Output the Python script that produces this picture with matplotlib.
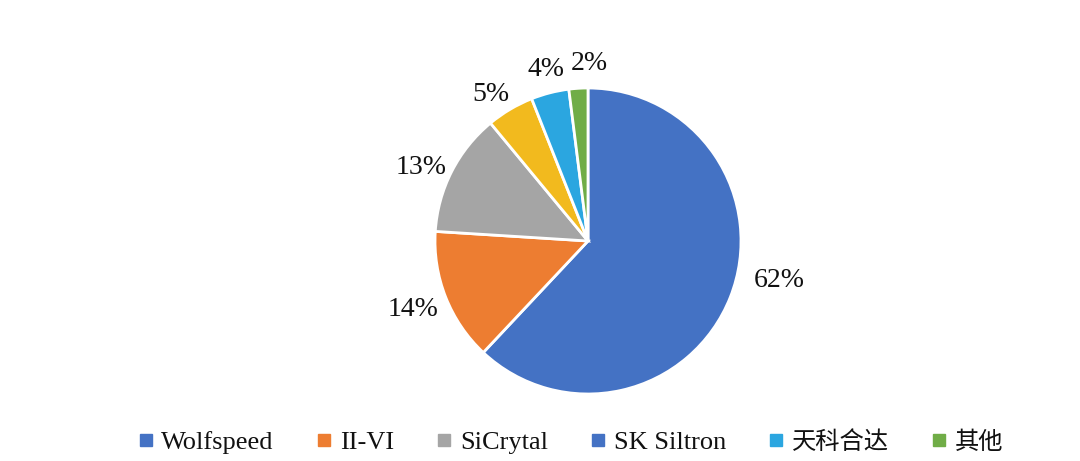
import matplotlib
matplotlib.use("Agg")
import matplotlib.pyplot as plt
from matplotlib.lines import Line2D

plt.rcParams['font.family'] = ['Liberation Serif', 'Noto Sans CJK SC', 'DejaVu Sans']

categories = ['Wolfspeed', 'II-VI', 'SiCrytal', 'SK Siltron', '天科合达', '其他']
values = [62, 14, 13, 5, 4, 2]
labels = ['62%', '14%', '13%', '5%', '4%', '2%']
slice_colors = ['#4472C4', '#ED7D31', '#A5A5A5', '#F2BA1E', '#2BA6E0', '#70AD47']
legend_colors = ['#4472C4', '#ED7D31', '#A5A5A5', '#4472C4', '#2BA6E0', '#70AD47']

W, H = 1080, 461
fig = plt.figure(figsize=(W / 100, H / 100), dpi=100)
cx, cy, r = 588, 241, 153
ax = fig.add_axes([(cx - r) / W, (H - cy - r) / H, 2 * r / W, 2 * r / H])

wedges, texts = ax.pie(values, labels=labels, colors=slice_colors, startangle=90,
                       counterclock=False, radius=1, labeldistance=1.16,
                       wedgeprops=dict(edgecolor='white', linewidth=2),
                       textprops=dict(fontsize=20, color='#111111'))
ax.set_xlim(-1, 1)
ax.set_ylim(-1, 1)
ax.set_aspect('auto')
ax.axis('off')
for t in texts:
    t.set_horizontalalignment('center')
    t.set_verticalalignment('center')
# small label nudges (data-label layout of the reference)
nudges = [(0.17, 0.17), (-0.065, -0.02), (-0.055, -0.045),
          (-0.046, -0.04), (0.012, 0.0), (0.08, 0.0)]
for t, (dx, dy) in zip(texts, nudges):
    x, y = t.get_position()
    t.set_position((x + dx, y + dy))

handles = [Line2D([0], [0], marker='s', linestyle='none', markersize=8,
                  markerfacecolor=c, markeredgecolor=c) for c in legend_colors]
leg = fig.legend(handles, categories, loc='center', ncol=6, frameon=False,
                 bbox_to_anchor=(570 / W, (H - 442) / H), fontsize=19,
                 handletextpad=0.25, columnspacing=1.55, handlelength=0.7,
                 labelcolor='#111111')
for t in leg.get_texts()[4:]:
    t.set_fontsize(17.5)

fig.savefig('out.png', dpi=100, facecolor='white')
